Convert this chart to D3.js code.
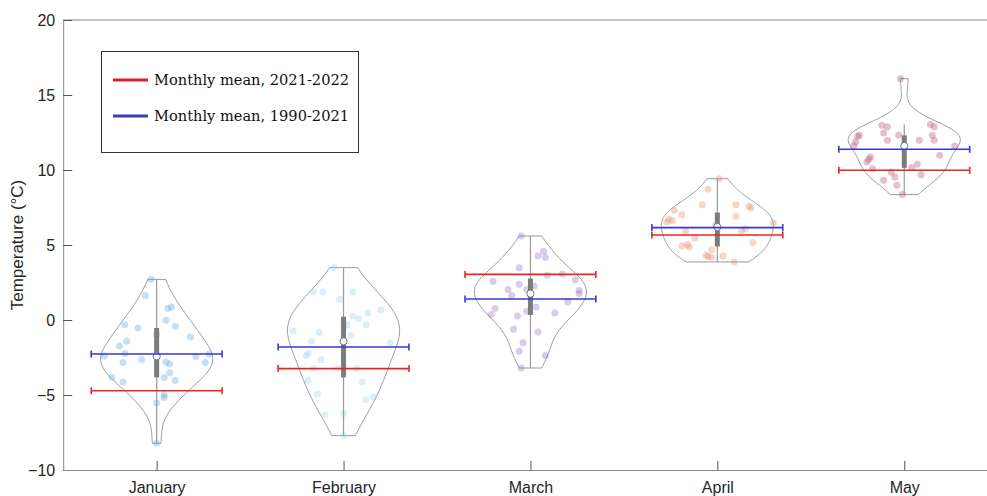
<!DOCTYPE html>
<html><head><meta charset="utf-8">
<script src="https://cdn.jsdelivr.net/npm/d3@7"></script>
<style>body{margin:0;background:#fff;}svg{display:block;}</style>
</head><body>
<svg id="chart" width="987" height="496"></svg>
<script>
// ---------- data ----------
const months = ["January", "February", "March", "April", "May"];
const yTicks = [-10, -5, 0, 5, 10, 15, 20];
const yLabel = "Temperature (°C)";
const legendLabels = ["Monthly mean, 2021-2022", "Monthly mean, 1990-2021"];

const meanRecent = [-4.72, -3.24, 3.04, 5.67, 9.98];   // red
const meanClim   = [-2.27, -1.80, 1.40, 6.16, 11.38];  // blue

const janValues = [2.71,1.64,0.76,0.87,-0.02,-0.42,-0.31,-0.53,-0.96,-1.13,-1.42,-1.73,-2.24,-2.40,-2.64,-2.84,-2.44,-2.27,-2.84,-2.80,-2.93,-3.51,-3.84,-4.04,-3.82,-4.13,-4.98,-5.16,-5.53,-8.22];
const janJitter = [-0.03,-0.06,0.06,0.08,0.05,0.10,-0.17,-0.10,0.00,0.18,-0.16,-0.20,-0.17,-0.28,-0.08,-0.18,0.21,0.28,0.26,0.05,0.07,0.07,0.04,0.10,-0.24,-0.18,0.04,0.04,0.00,0.00];

const febValues = [3.49,1.87,1.87,1.87,1.38,0.69,0.47,0.27,0.09,-0.31,-0.31,-0.47,-0.73,-0.82,-1.02,-1.42,-1.51,-2.22,-2.36,-2.64,-3.24,-3.24,-3.24,-4.02,-4.13,-4.93,-5.13,-5.31,-6.31,-6.24,-7.71];
const febJitter = [-0.05,-0.16,-0.11,0.05,-0.02,0.20,0.13,0.05,0.08,0.02,0.12,0.00,-0.27,-0.13,0.04,-0.17,0.25,-0.19,-0.20,-0.12,-0.16,-0.03,0.07,-0.19,0.10,-0.14,0.16,0.12,-0.10,0.00,0.00];

const marValues = [5.60,4.58,4.27,4.18,3.49,2.98,3.07,2.69,2.58,2.38,2.27,2.04,2.04,1.96,1.64,1.76,1.20,0.87,0.76,0.36,0.58,0.47,0.27,-0.62,-0.80,-1.51,-2.09,-2.36,-3.20];
const marJitter = [-0.05,0.07,0.04,0.08,-0.06,0.09,0.17,0.24,-0.20,-0.06,0.02,-0.12,-0.02,0.26,-0.10,0.26,0.20,0.03,-0.19,-0.21,-0.02,0.13,-0.07,-0.09,0.04,-0.04,-0.06,0.08,-0.05];

const aprValues = [9.42,8.71,7.69,7.69,7.58,7.47,7.31,7.02,6.91,6.71,6.64,6.53,6.47,6.31,6.09,5.96,5.91,5.47,5.16,5.04,4.93,4.87,4.69,4.31,4.24,4.18,4.27,3.87];
const aprJitter = [0.01,-0.05,-0.08,0.10,0.17,0.18,-0.23,-0.19,0.10,-0.26,-0.24,-0.27,0.30,-0.01,0.15,0.13,-0.17,-0.12,0.19,-0.16,-0.19,-0.15,-0.03,-0.06,-0.05,-0.03,0.03,0.09];

const mayValues = [16.09,12.98,12.89,13.04,12.89,12.47,12.31,12.31,12.24,12.31,11.98,11.98,11.98,11.87,11.60,11.60,10.98,10.87,10.71,10.53,10.38,10.16,10.09,9.87,9.69,9.53,9.31,8.98,8.36];
const mayJitter = [-0.02,-0.12,-0.09,0.14,0.16,-0.11,-0.03,-0.24,-0.25,0.15,-0.09,0.08,0.16,-0.26,0.27,-0.27,0.19,-0.18,-0.19,-0.20,0.07,0.04,-0.17,-0.07,0.09,-0.05,-0.11,-0.04,-0.01];

const pointColors = ["#61a7dd", "#9fd3ef", "#9b73bd", "#e78d63", "#b75173"];

// ---------- layout ----------
const valuesByMonth = [janValues, febValues, marValues, aprValues, mayValues];
const jitterByMonth = [janJitter, febJitter, marJitter, aprJitter, mayJitter];

const svg = d3.select("#chart");
const x = d3.scaleLinear().domain([0.5, 5.5]).range([63.2, 997.7]);
const y = d3.scaleLinear().domain([-10, 20]).range([470, 20]);
const violinHalf = 0.3;   // category units
const meanHalf = 0.35;

function mQuantile(s, p) {
  const n = s.length, pos = p * n - 0.5;
  if (pos <= 0) return s[0];
  if (pos >= n - 1) return s[n - 1];
  const i = Math.floor(pos), f = pos - i;
  return s[i] * (1 - f) + s[i + 1] * f;
}

// frame
const frame = svg.append("g");
frame.append("line").attr("x1", x(0.5)).attr("x2", x(5.5)).attr("y1", y(20)).attr("y2", y(20))
  .attr("stroke", "#8a8a8a").attr("stroke-width", 1);
frame.append("line").attr("x1", x(5.5)).attr("x2", x(5.5)).attr("y1", y(20)).attr("y2", y(-10))
  .attr("stroke", "#8a8a8a").attr("stroke-width", 1);

const yAxis = svg.append("g").attr("transform", `translate(${x(0.5)},0)`)
  .call(d3.axisLeft(y).tickValues(yTicks).tickSizeInner(-9).tickSizeOuter(0).tickPadding(8));
const xAxis = svg.append("g").attr("transform", `translate(0,${y(-10)})`)
  .call(d3.axisBottom(x).tickValues([1,2,3,4,5]).tickFormat(d => months[d - 1]).tickSizeInner(-9).tickSizeOuter(0).tickPadding(12));
[yAxis, xAxis].forEach(g => {
  g.select(".domain").attr("stroke", "#8a8a8a");
  g.selectAll(".tick line").attr("stroke", "#555");
  g.selectAll("text").attr("fill", "#262626").style("font-family", "Liberation Sans, Arial, sans-serif").style("font-size", "16px");
});

svg.append("text").attr("transform", `translate(23,${(y(20) + y(-10)) / 2}) rotate(-90)`)
  .attr("text-anchor", "middle").attr("fill", "#262626")
  .style("font-family", "Liberation Sans, Arial, sans-serif").style("font-size", "17px")
  .text(yLabel);

// violins
valuesByMonth.forEach((vals, mi) => {
  const pos = mi + 1;
  const s = vals.slice().sort(d3.ascending);
  const n = s.length;
  const med = d3.median(s);
  const mad = d3.median(s.map(v => Math.abs(v - med)));
  const bw = (mad / 0.6745) * Math.pow(4 / (3 * n), 0.2);
  const lo = s[0], hi = s[n - 1];
  const grid = d3.range(100).map(i => lo + (hi - lo) * i / 99);
  const dens = grid.map(g => d3.sum(s, v => Math.exp(-0.5 * ((g - v) / bw) ** 2)));
  const w = d3.scaleLinear().domain([0, d3.max(dens)]).range([0, violinHalf]);
  const outline = grid.map((g, i) => [pos - w(dens[i]), g])
    .concat(grid.map((g, i) => [pos + w(dens[i]), g]).reverse());
  const g = svg.append("g");
  g.append("path")
    .attr("d", d3.line().x(d => x(d[0])).y(d => y(d[1]))(outline) + "Z")
    .attr("fill", "none").attr("stroke", "#9a9a9a").attr("stroke-width", 1);

  g.selectAll("circle.pt").data(vals).join("circle").attr("class", "pt")
    .attr("cx", (v, i) => x(pos + jitterByMonth[mi][i]))
    .attr("cy", v => y(v)).attr("r", 3.5)
    .attr("fill", pointColors[mi]).attr("fill-opacity", 0.36);

  const q1 = mQuantile(s, 0.25), q2 = mQuantile(s, 0.5), q3 = mQuantile(s, 0.75);
  const iqr = q3 - q1;
  const loW = Math.max(q1 - 1.5 * iqr, d3.min(s.filter(v => v >= q1 - 1.5 * iqr)));
  const hiW = Math.min(q3 + 1.5 * iqr, d3.max(s.filter(v => v <= q3 + 1.5 * iqr)));
  g.append("line").attr("x1", x(pos)).attr("x2", x(pos)).attr("y1", y(loW)).attr("y2", y(hiW))
    .attr("stroke", "#9a9a9a").attr("stroke-width", 1.2);
  g.append("line").attr("x1", x(pos)).attr("x2", x(pos)).attr("y1", y(q1)).attr("y2", y(q3))
    .attr("stroke", "#7c7c7c").attr("stroke-width", 5);
  g.append("circle").attr("cx", x(pos)).attr("cy", y(q2)).attr("r", 3.6)
    .attr("fill", "#fff").attr("stroke", "#777").attr("stroke-width", 1);
});

// mean lines
function meanLine(vals, color) {
  vals.forEach((v, i) => {
    const pos = i + 1;
    const g = svg.append("g").attr("stroke", color).attr("stroke-width", 1.6);
    g.append("line").attr("x1", x(pos - meanHalf)).attr("x2", x(pos + meanHalf)).attr("y1", y(v)).attr("y2", y(v));
    [pos - meanHalf, pos + meanHalf].forEach(e =>
      g.append("line").attr("x1", x(e)).attr("x2", x(e)).attr("y1", y(v) - 3.5).attr("y2", y(v) + 3.5));
  });
}
meanLine(meanRecent, "#ee2222");
meanLine(meanClim, "#3535e2");

// legend
const lg = svg.append("g");
lg.append("rect").attr("x", 101.5).attr("y", 51.5).attr("width", 257).attr("height", 101)
  .attr("fill", "#fff").attr("stroke", "#333").attr("stroke-width", 1);
const legColors = ["#dc1f2d", "#3c3cb8"];
legendLabels.forEach((t, i) => {
  const ly = 80 + i * 36;
  lg.append("line").attr("x1", 113).attr("x2", 148).attr("y1", ly).attr("y2", ly)
    .attr("stroke", legColors[i]).attr("stroke-width", 3);
  lg.append("text").attr("x", 154).attr("y", ly + 5).attr("fill", "#111")
    .style("font-family", "DejaVu Serif, serif").style("font-size", "14.6px").text(t);
});
</script>
</body></html>
